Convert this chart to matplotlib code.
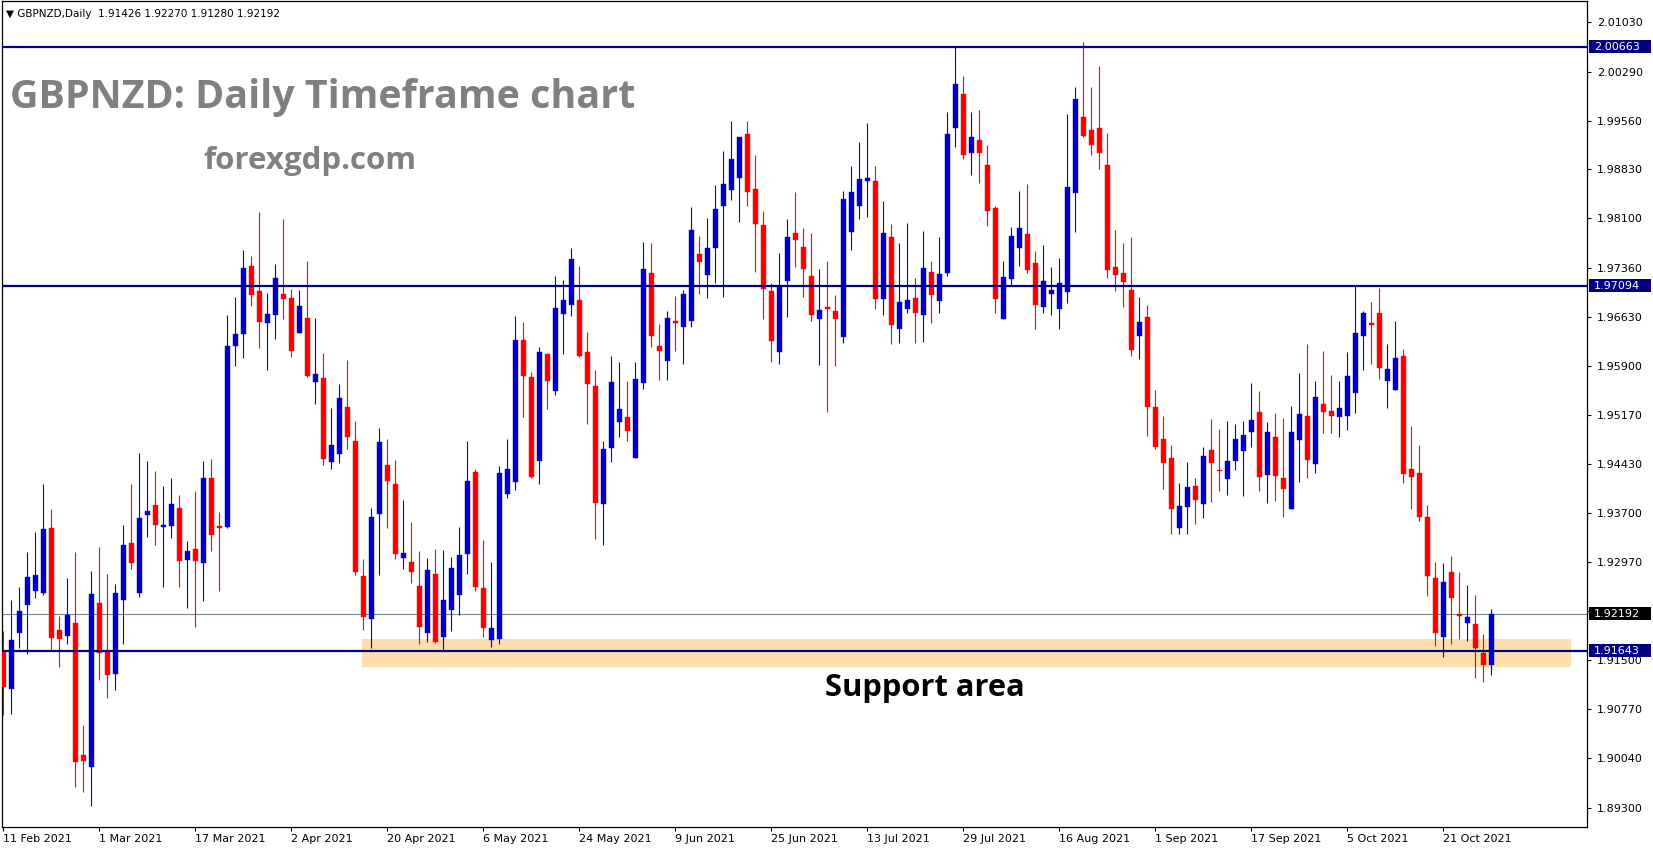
import matplotlib
matplotlib.use("Agg")
import matplotlib.pyplot as plt
from matplotlib.patches import Rectangle

# daily GBPNZD candles, 11 Feb 2021 .. 29 Oct 2021
opens = [
    1.9163, 1.9107, 1.9190, 1.9232, 1.9254, 1.9250, 1.9348, 1.9195, 1.9186, 1.9206,
    1.9008, 1.8991, 1.9236, 1.9163, 1.9130, 1.9240, 1.9325, 1.9251, 1.9367, 1.9382,
    1.9349, 1.9351, 1.9378, 1.9300, 1.9316, 1.9296, 1.9422, 1.9350, 1.9349, 1.9619,
    1.9637, 1.9739, 1.9702, 1.9654, 1.9666, 1.9697, 1.9691, 1.9639, 1.9661, 1.9565,
    1.9571, 1.9446, 1.9458, 1.9528, 1.9477, 1.9276, 1.9212, 1.9369, 1.9442, 1.9413,
    1.9302, 1.9297, 1.9261, 1.9191, 1.9279, 1.9185, 1.9225, 1.9248, 1.9308, 1.9431,
    1.9258, 1.9181, 1.9182, 1.9399, 1.9416, 1.9628, 1.9573, 1.9448, 1.9607, 1.9552,
    1.9667, 1.9681, 1.9688, 1.9610, 1.9559, 1.9383, 1.9467, 1.9506, 1.9513, 1.9452,
    1.9564, 1.9728, 1.9619, 1.9597, 1.9657, 1.9648, 1.9657, 1.9757, 1.9726, 1.9766,
    1.9829, 1.9853, 1.9870, 1.9936, 1.9854, 1.9800, 1.9701, 1.9611, 1.9717, 1.9788,
    1.9767, 1.9724, 1.9659, 1.9678, 1.9672, 1.9633, 1.9789, 1.9829, 1.9866, 1.9866,
    1.9689, 1.9782, 1.9644, 1.9674, 1.9691, 1.9665, 1.9730, 1.9687, 1.9729, 1.9945,
    1.9996, 1.9908, 1.9927, 1.9890, 1.9825, 1.9660, 1.9720, 1.9766, 1.9787, 1.9743,
    1.9678, 1.9697, 1.9675, 1.9700, 1.9848, 1.9961, 1.9942, 1.9945, 1.9890, 1.9737,
    1.9728, 1.9703, 1.9635, 1.9663, 1.9528, 1.9480, 1.9452, 1.9348, 1.9379, 1.9410,
    1.9384, 1.9464, 1.9434, 1.9421, 1.9448, 1.9462, 1.9491, 1.9521, 1.9427, 1.9483,
    1.9422, 1.9376, 1.9479, 1.9515, 1.9443, 1.9533, 1.9522, 1.9513, 1.9515, 1.9549,
    1.9634, 1.9653, 1.9669, 1.9567, 1.9554, 1.9604, 1.9436, 1.9430, 1.9364, 1.9273,
    1.9185, 1.9282, 1.9219, 1.9206, 1.9204, 1.9161, 1.91426]
highs = [
    1.9193, 1.9240, 1.9259, 1.9312, 1.9342, 1.9413, 1.9376, 1.9216, 1.9273, 1.9312,
    1.9053, 1.9283, 1.9319, 1.9279, 1.9264, 1.9352, 1.9413, 1.9460, 1.9448, 1.9433,
    1.9410, 1.9422, 1.9397, 1.9328, 1.9403, 1.9448, 1.9451, 1.9371, 1.9665, 1.9692,
    1.9763, 1.9754, 1.9819, 1.9698, 1.9742, 1.9809, 1.9704, 1.9703, 1.9746, 1.9661,
    1.9609, 1.9527, 1.9563, 1.9598, 1.9507, 1.9301, 1.9377, 1.9497, 1.9480, 1.9449,
    1.9389, 1.9357, 1.9313, 1.9303, 1.9316, 1.9315, 1.9304, 1.9349, 1.9477, 1.9435,
    1.9330, 1.9297, 1.9440, 1.9480, 1.9664, 1.9655, 1.9580, 1.9618, 1.9608, 1.9724,
    1.9718, 1.9766, 1.9739, 1.9640, 1.9583, 1.9477, 1.9604, 1.9595, 1.9567, 1.9595,
    1.9775, 1.9773, 1.9652, 1.9672, 1.9694, 1.9703, 1.9827, 1.9784, 1.9811, 1.9860,
    1.9911, 1.9956, 1.9932, 1.9956, 1.9905, 1.9821, 1.9714, 1.9758, 1.9809, 1.9849,
    1.9796, 1.9788, 1.9734, 1.9746, 1.9696, 1.9851, 1.9888, 1.9924, 1.9952, 1.9888,
    1.9836, 1.9802, 1.9773, 1.9803, 1.9721, 1.9791, 1.9746, 1.9782, 1.9969, 2.0066,
    2.0023, 1.9969, 1.9972, 1.9920, 1.9828, 1.9746, 1.9797, 1.9851, 1.9861, 1.9761,
    1.9770, 1.9737, 1.9751, 1.9966, 2.0006, 2.0073, 2.0006, 2.0037, 1.9937, 1.9793,
    1.9773, 1.9782, 1.9693, 1.9681, 1.9554, 1.9515, 1.9472, 1.9415, 1.9446, 1.9422,
    1.9469, 1.9510, 1.9495, 1.9507, 1.9503, 1.9507, 1.9564, 1.9552, 1.9506, 1.9519,
    1.9512, 1.9530, 1.9579, 1.9622, 1.9567, 1.9612, 1.9576, 1.9567, 1.9610, 1.9709,
    1.9672, 1.9685, 1.9706, 1.9622, 1.9657, 1.9615, 1.9500, 1.9472, 1.9382, 1.9297,
    1.9295, 1.9306, 1.9282, 1.9262, 1.9248, 1.9189, 1.92270]
lows = [
    1.9069, 1.9070, 1.9169, 1.9160, 1.9243, 1.9248, 1.9166, 1.9140, 1.9174, 1.8960,
    1.8954, 1.8933, 1.9120, 1.9093, 1.9106, 1.9175, 1.9287, 1.9244, 1.9334, 1.9322,
    1.9260, 1.9332, 1.9260, 1.9228, 1.9200, 1.9239, 1.9313, 1.9254, 1.9347, 1.9590,
    1.9601, 1.9679, 1.9617, 1.9584, 1.9630, 1.9660, 1.9603, 1.9639, 1.9573, 1.9533,
    1.9441, 1.9436, 1.9444, 1.9466, 1.9277, 1.9195, 1.9169, 1.9278, 1.9348, 1.9301,
    1.9287, 1.9266, 1.9174, 1.9178, 1.9176, 1.9164, 1.9193, 1.9218, 1.9279, 1.9254,
    1.9185, 1.9170, 1.9175, 1.9392, 1.9405, 1.9513, 1.9422, 1.9414, 1.9525, 1.9546,
    1.9607, 1.9664, 1.9603, 1.9503, 1.9331, 1.9322, 1.9446, 1.9483, 1.9478, 1.9452,
    1.9555, 1.9618, 1.9569, 1.9569, 1.9612, 1.9593, 1.9648, 1.9697, 1.9691, 1.9714,
    1.9693, 1.9838, 1.9805, 1.9828, 1.9730, 1.9660, 1.9596, 1.9593, 1.9663, 1.9738,
    1.9693, 1.9656, 1.9591, 1.9521, 1.9589, 1.9624, 1.9763, 1.9809, 1.9812, 1.9675,
    1.9665, 1.9622, 1.9624, 1.9668, 1.9624, 1.9626, 1.9654, 1.9669, 1.9724, 1.9917,
    1.9899, 1.9875, 1.9863, 1.9798, 1.9668, 1.9660, 1.9710, 1.9739, 1.9729, 1.9645,
    1.9668, 1.9666, 1.9645, 1.9683, 1.9789, 1.9932, 1.9904, 1.9883, 1.9721, 1.9702,
    1.9678, 1.9605, 1.9600, 1.9485, 1.9465, 1.9406, 1.9339, 1.9339, 1.9338, 1.9354,
    1.9362, 1.9387, 1.9403, 1.9397, 1.9434, 1.9396, 1.9468, 1.9403, 1.9385, 1.9388,
    1.9364, 1.9376, 1.9416, 1.9422, 1.9430, 1.9489, 1.9489, 1.9483, 1.9494, 1.9519,
    1.9584, 1.9592, 1.9570, 1.9527, 1.9554, 1.9415, 1.9376, 1.9358, 1.9246, 1.9171,
    1.9155, 1.9174, 1.9182, 1.9179, 1.9124, 1.9118, 1.91280]
closes = [
    1.9110, 1.9180, 1.9224, 1.9275, 1.9278, 1.9346, 1.9184, 1.9182, 1.9218, 1.8998,
    1.9000, 1.9249, 1.9161, 1.9128, 1.9251, 1.9322, 1.9296, 1.9363, 1.9373, 1.9352,
    1.9352, 1.9383, 1.9299, 1.9313, 1.9298, 1.9422, 1.9337, 1.9348, 1.9620, 1.9638,
    1.9736, 1.9695, 1.9655, 1.9667, 1.9721, 1.9690, 1.9612, 1.9679, 1.9574, 1.9577,
    1.9451, 1.9471, 1.9542, 1.9483, 1.9282, 1.9214, 1.9364, 1.9476, 1.9418, 1.9308,
    1.9310, 1.9282, 1.9199, 1.9285, 1.9178, 1.9240, 1.9288, 1.9307, 1.9418, 1.9259,
    1.9198, 1.9198, 1.9430, 1.9436, 1.9628, 1.9575, 1.9424, 1.9610, 1.9567, 1.9676,
    1.9688, 1.9749, 1.9604, 1.9563, 1.9385, 1.9466, 1.9565, 1.9526, 1.9492, 1.9570,
    1.9734, 1.9635, 1.9612, 1.9661, 1.9653, 1.9697, 1.9793, 1.9745, 1.9766, 1.9824,
    1.9862, 1.9899, 1.9932, 1.9849, 1.9801, 1.9705, 1.9627, 1.9709, 1.9782, 1.9778,
    1.9735, 1.9665, 1.9673, 1.9674, 1.9659, 1.9839, 1.9849, 1.9869, 1.9870, 1.9689,
    1.9788, 1.9651, 1.9685, 1.9688, 1.9668, 1.9736, 1.9696, 1.9727, 1.9936, 2.0011,
    1.9905, 1.9931, 1.9907, 1.9821, 1.9689, 1.9722, 1.9784, 1.9796, 1.9733, 1.9681,
    1.9716, 1.9703, 1.9713, 1.9857, 1.9988, 1.9933, 1.9920, 1.9907, 1.9733, 1.9726,
    1.9715, 1.9614, 1.9655, 1.9529, 1.9469, 1.9445, 1.9376, 1.9380, 1.9409, 1.9389,
    1.9455, 1.9445, 1.9432, 1.9448, 1.9480, 1.9486, 1.9509, 1.9424, 1.9491, 1.9425,
    1.9406, 1.9491, 1.9518, 1.9449, 1.9543, 1.9521, 1.9515, 1.9527, 1.9575, 1.9639,
    1.9669, 1.9651, 1.9587, 1.9585, 1.9601, 1.9428, 1.9424, 1.9364, 1.9276, 1.9191,
    1.9267, 1.9243, 1.9216, 1.9215, 1.9168, 1.9143, 1.92192]

date_ticks = [0, 12, 24, 36, 48, 60, 72, 84, 96, 108, 120, 132, 144, 156, 168, 180]
date_labels = ["11 Feb 2021", "1 Mar 2021", "17 Mar 2021", "2 Apr 2021", "20 Apr 2021",
               "6 May 2021", "24 May 2021", "9 Jun 2021", "25 Jun 2021", "13 Jul 2021",
               "29 Jul 2021", "16 Aug 2021", "1 Sep 2021", "17 Sep 2021", "5 Oct 2021",
               "21 Oct 2021"]
price_ticks = [1.89300, 1.90040, 1.90770, 1.91500, 1.92240, 1.92970, 1.93700, 1.94430,
               1.95170, 1.95900, 1.96630, 1.97360, 1.98100, 1.98830, 1.99560, 2.00290,
               2.01030]

level_lines = [2.00663, 1.97094, 1.91643]
last_price = 1.92192
support_low, support_high = 1.91405, 1.91818
support_start, support_end = 44.9, 196.0

W, H = 1653, 850
fig = plt.figure(figsize=(W / 100, H / 100), dpi=100)
ax = fig.add_axes([2 / W, 23 / H, 1585 / W, 826 / H])

bull = "#0000CD"
bear = "#FF0000"
navy = "#000080"

for i in range(len(opens)):
    o, h, l, c = opens[i], highs[i], lows[i], closes[i]
    col = bull if c >= o else bear
    ax.vlines(i, l, h, color=col, linewidth=0.8, zorder=3)
    lo = min(o, c)
    ht = max(abs(c - o), 0.00008)
    ax.bar(i, ht, bottom=lo, width=0.6, color=col, edgecolor=col, linewidth=0.3, zorder=4)

# support zone
ax.add_patch(Rectangle((support_start, support_low), support_end - support_start,
                       support_high - support_low, facecolor="#FFDEAD", edgecolor="none", zorder=1))

for lv in level_lines:
    ax.axhline(lv, color=navy, linewidth=1.6, zorder=5)
ax.axhline(last_price, color="#778899", linewidth=0.8, zorder=2)

ax.set_xlim(-0.16, 197.96)
ax.set_ylim(1.89010, 2.01346)

ax.yaxis.tick_right()
ax.set_yticks(price_ticks)
ax.set_yticklabels(["%.5f" % p for p in price_ticks])
ax.set_xticks(date_ticks)
ax.set_xticklabels(date_labels, ha="left")
ax.tick_params(axis="y", length=3, width=0.8, pad=4, labelsize=8, colors="black")
ax.tick_params(axis="x", length=3, width=0.8, pad=2, labelsize=8, colors="black")
for s in ax.spines.values():
    s.set_color("black")
    s.set_linewidth(0.9)

# price boxes on the right axis
box_h = 13 / 6696
for p, fc in [(2.00663, navy), (1.97094, navy), (1.91643, navy), (last_price, "black")]:
    ax.add_patch(Rectangle((1 + 1.5 / 1585, p - box_h / 2), 62 / 1585, box_h,
                           transform=ax.get_yaxis_transform(), facecolor=fc,
                           edgecolor="none", clip_on=False, zorder=10))
    ax.text(1 + 7 / 1585, p, "%.5f" % p, transform=ax.get_yaxis_transform(),
            ha="left", va="center", fontsize=8, color="white", zorder=11, clip_on=False)

fig.text(6 / W, 1 - 14 / H, "\u25bc GBPNZD,Daily  1.91426 1.92270 1.91280 1.92192",
         fontsize=7.5, va="center", ha="left")
fig.text(10 / W, 1 - 108 / H, "GBPNZD: Daily Timeframe chart", fontsize=28.4,
         family="Open Sans", weight="bold", color="#808080", va="baseline")
fig.text(203 / W, 1 - 169 / H, "forexgdp.com", fontsize=22.5, family="Open Sans",
         weight="bold", color="#808080", va="baseline")
fig.text(825 / W, 1 - 696 / H, "Support area", fontsize=22.2, family="Open Sans",
         weight="bold", color="black", va="baseline")

fig.savefig("out.png", dpi=100, facecolor="white")
